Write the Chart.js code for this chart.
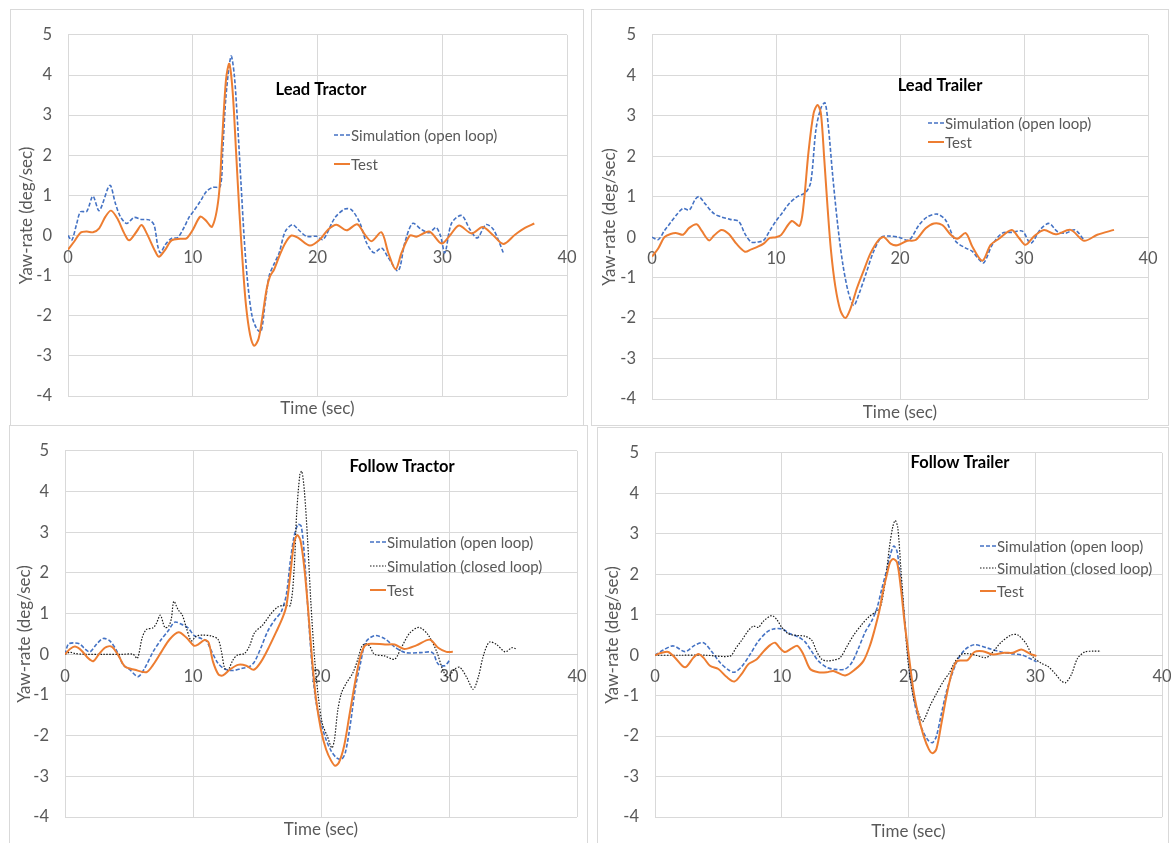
<!DOCTYPE html>
<html>
<head>
<meta charset="utf-8">
<script src="https://cdn.jsdelivr.net/npm/chart.js@4.4.1/dist/chart.umd.min.js"></script>
<style>
  body { margin: 0; background: #fff; width: 1171px; height: 843px; overflow: hidden; position: relative; }
  .frame { position: absolute; border: 1px solid #d9d9d9; box-sizing: border-box; }
  canvas { position: absolute; }
</style>
</head>
<body>
<div class="frame" style="left:10px;top:9px;width:574px;height:417px"></div>
<div class="frame" style="left:591px;top:9px;width:578px;height:417px"></div>
<div class="frame" style="left:9px;top:425px;width:579px;height:430px"></div>
<div class="frame" style="left:597px;top:427px;width:572px;height:430px"></div>

<canvas id="leadTractor" width="573" height="416" style="left:10px;top:9px"></canvas>
<canvas id="leadTrailer" width="577" height="416" style="left:591px;top:9px"></canvas>
<canvas id="followTractor" width="578" height="418" style="left:9px;top:425px"></canvas>
<canvas id="followTrailer" width="574" height="416" style="left:597px;top:427px"></canvas>

<script>
// axis ranges shared by all four panels
const timeRange = [0, 40];
const yawRange = [-4, 5];

// [time (sec), yaw-rate (deg/sec)]

// Lead Tractor
const leadTractorOpen = [[0,0],[0.3,-0.12],[0.7,0.3],[1,0.59],[1.5,0.6],[2,0.98],[2.5,0.62],[3.35,1.25],[3.8,0.8],[4.2,0.47],
  [4.7,0.3],[5.3,0.45],[5.9,0.4],[6.5,0.39],[6.9,0.26],[7.2,-0.27],[7.4,-0.43],[7.8,-0.23],[8.3,-0.07],[8.8,-0.05],
  [9.3,0.2],[9.7,0.45],[10.1,0.62],[10.6,0.85],[11.1,1.1],[11.6,1.2],[12.2,1.22],[12.4,2.1],[12.67,3.5],[13.07,4.47],
  [13.33,4.0],[13.6,2.76],[13.87,1.29],[14.13,-0.1],[14.4,-1.17],[14.75,-2.0],[15.12,-2.32],[15.47,-2.4],[15.81,-1.66],[16.13,-1.0],
  [16.53,-0.7],[16.93,-0.43],[17.41,0.1],[18,0.27],[18.45,0.15],[19.12,-0.02],[19.92,-0.02],[20.45,-0.1],[21.39,0.44],[22.19,0.66],
  [22.73,0.64],[23.4,0.31],[23.93,-0.18],[24.52,-0.43],[25.13,-0.31],[25.67,-0.55],[26.47,-0.88],[27,-0.18],[27.62,0.3],[28.34,0.15],
  [28.96,0.07],[29.5,0.2],[29.87,-0.02],[30.21,-0.43],[30.75,0.31],[31.55,0.5],[32.22,0.15],[32.81,-0.06],[33.5,0.27],[34.1,0.15],[34.9,-0.43]];
const leadTractorTest = [[0,-0.35],[0.5,-0.15],[1,0.07],[1.5,0.1],[2,0.08],[2.5,0.18],[3,0.47],[3.45,0.62],[4,0.4],[4.5,0.06],
  [4.9,-0.12],[5.5,0.1],[5.9,0.26],[6.3,0.06],[7,-0.4],[7.3,-0.53],[7.8,-0.35],[8.3,-0.12],[9,-0.08],[9.5,-0.07],
  [10,0.14],[10.6,0.47],[11,0.39],[11.55,0.22],[12.08,0.96],[12.35,2.35],[12.67,3.9],[12.93,4.28],[13.2,3.58],[13.47,2.1],
  [13.73,0.63],[14,-0.68],[14.27,-1.75],[14.6,-2.48],[14.93,-2.75],[15.28,-2.57],[15.6,-1.99],[15.92,-1.34],[16.19,-1.02],[16.53,-0.84],
  [16.93,-0.52],[17.41,-0.19],[17.91,0],[18.45,-0.06],[19.39,-0.25],[20.19,-0.1],[20.86,0.15],[21.52,0.27],[22.33,0.13],[23.18,0.28],
  [23.8,0.02],[24.33,-0.14],[25.13,0.08],[25.67,-0.43],[26.26,-0.84],[26.74,-0.43],[27.41,0],[27.94,-0.03],[28.96,0.1],[29.95,-0.2],
  [30.61,0],[31.34,0.25],[32.35,0.05],[33.24,0.21],[34.04,0.02],[34.9,-0.21],[35.83,0.02],[36.63,0.19],[37.38,0.3]];

// Lead Trailer
const leadTrailerOpen = [[0,0],[0.5,-0.06],[1,0.16],[1.5,0.36],[2,0.56],[2.5,0.71],[3,0.67],[3.5,0.94],[3.8,1.0],[4.3,0.82],
  [5,0.58],[5.6,0.5],[6.3,0.44],[7,0.39],[7.5,0.08],[8,-0.12],[8.5,-0.12],[9,-0.08],[9.5,0.16],[10,0.4],
  [10.5,0.6],[11,0.81],[11.6,0.98],[12.4,1.11],[12.81,1.37],[13.22,2.66],[13.62,3.19],[13.95,3.32],[14.22,2.74],[14.57,1.53],
  [14.97,0.32],[15.38,-0.65],[15.84,-1.37],[16.27,-1.69],[16.73,-1.37],[17.27,-0.89],[17.81,-0.4],[18.49,0],[19.03,0.03],[19.9,0],
  [20.73,-0.07],[21.53,0.3],[22.2,0.5],[23,0.57],[23.68,0.42],[24.49,-0.1],[25.3,-0.27],[25.83,-0.35],[26.37,-0.55],[26.77,-0.63],
  [27.44,-0.19],[28.25,0.1],[29.06,0.12],[29.87,0.15],[30.54,-0.15],[31.34,0.2],[32.02,0.34],[32.69,0.14],[33.36,0.1],[34.11,0.18],[34.84,-0.07]];
const leadTrailerTest = [[0,-0.48],[0.5,-0.28],[1,0],[1.5,0.08],[2,0.1],[2.5,0.06],[3,0.23],[3.6,0.32],[4,0.16],[4.6,-0.08],
  [5,0.04],[5.6,0.18],[6.2,0.08],[6.8,-0.16],[7.5,-0.36],[8,-0.3],[8.5,-0.24],[9,-0.16],[9.5,-0.02],[10,0],
  [10.4,0.05],[11.27,0.4],[11.89,0.28],[12.2,0.73],[12.62,2.1],[13.03,3.06],[13.35,3.27],[13.62,3.06],[13.89,1.94],[14.16,0.73],
  [14.43,-0.32],[14.78,-1.21],[15.19,-1.81],[15.59,-2.0],[16,-1.77],[16.54,-1.25],[17.08,-0.82],[17.62,-0.4],[18.3,-0.06],[18.71,0],
  [19.24,-0.16],[19.78,-0.2],[20.59,-0.09],[21.26,-0.07],[22.07,0.22],[22.74,0.34],[23.41,0.3],[24.09,0.06],[24.62,-0.04],[25.3,0.1],
  [25.83,-0.23],[26.64,-0.58],[27.31,-0.19],[27.98,-0.04],[29,0.18],[29.6,-0.02],[30.13,-0.19],[30.81,0.02],[31.61,0.18],[32.55,0.07],
  [33.76,0.18],[34.84,-0.09],[35.91,0.06],[37.26,0.18]];

// Follow Tractor
const followTractorOpen = [[0,0],[0.26,0.25],[0.65,0.28],[1.17,0.25],[1.56,0.13],[1.95,0.06],[2.47,0.25],[2.99,0.39],[3.5,0.33],[4.03,0.09],
  [4.55,-0.26],[5.06,-0.38],[5.71,-0.55],[6.23,-0.34],[6.88,0.06],[7.53,0.37],[8.05,0.57],[8.57,0.79],[9.22,0.72],[9.61,0.65],
  [10.13,0.45],[10.65,0.39],[11.04,0.33],[11.43,0.09],[11.95,-0.22],[12.47,-0.36],[13.12,-0.4],[13.77,-0.35],[14.42,-0.3],[14.81,-0.18],
  [15.32,0.17],[15.84,0.57],[16.4,0.85],[16.9,1.05],[17.3,1.48],[17.6,2.28],[17.9,2.9],[18.2,3.19],[18.45,3.15],[18.7,2.44],
  [19,1.0],[19.3,-0.27],[19.6,-1.15],[20,-1.7],[20.4,-2.1],[20.8,-2.38],[21.2,-2.54],[21.6,-2.58],[21.9,-2.42],[22.3,-1.7],
  [22.7,-0.8],[23.1,-0.2],[23.5,0.3],[24.2,0.46],[25,0.38],[25.8,0.17],[26.6,0.04],[27.7,0.04],[28.7,0.04],[29.15,-0.24],
  [29.67,-0.28],[30.1,-0.12]];
const followTractorClosed = [[0,0],[0.39,0.05],[0.78,0.02],[1.5,0],[3,0],[4.5,0],[5.32,0],[5.66,-0.1],[6.03,0.41],[6.36,0.61],
  [6.88,0.65],[7.14,0.76],[7.45,0.96],[7.8,0.66],[8.1,0.69],[8.31,0.88],[8.5,1.3],[8.83,1.1],[9.17,0.96],[9.48,0.65],
  [9.87,0.33],[10.26,0.45],[10.78,0.47],[11.43,0.45],[11.95,0.37],[12.21,0.09],[12.47,-0.34],[12.73,-0.39],[13.12,-0.14],[13.46,-0.02],
  [14.03,0.02],[14.42,0.21],[14.81,0.53],[15.45,0.72],[16.1,1.0],[16.62,1.16],[17.14,1.21],[17.6,1.2],[17.9,2.1],[18.1,3.47],
  [18.35,4.42],[18.5,4.5],[18.7,4.02],[18.95,2.83],[19.2,1.32],[19.5,-0.11],[19.8,-1.07],[20.1,-1.7],[20.5,-2.02],[20.85,-2.3],
  [21.05,-2.1],[21.3,-1.4],[21.6,-0.95],[22,-0.7],[22.5,-0.45],[22.9,-0.1],[23.2,0.2],[23.5,0.26],[23.8,0.2],[24.18,0],
  [24.96,-0.04],[25.75,-0.12],[26.27,0.16],[26.93,0.52],[27.66,0.66],[28.36,0.48],[29.02,0.08],[29.54,-0.4],[29.93,-0.56],[30.45,-0.36],
  [30.85,-0.32],[31.37,-0.56],[31.89,-0.86],[32.29,-0.56],[32.68,-0.04],[33.15,0.3],[33.72,0.24],[34.38,0.06],[34.9,0.16],[35.21,0.14]];
const followTractorTest = [[0,0],[0.39,0.13],[0.78,0.19],[1.3,0.09],[1.82,-0.1],[2.21,-0.17],[2.6,-0.02],[3.12,0.16],[3.64,0.19],[4.16,-0.02],
  [4.68,-0.3],[5.45,-0.38],[6.36,-0.44],[6.88,-0.26],[7.53,0.06],[8.18,0.37],[8.88,0.54],[9.48,0.41],[10.08,0.21],[10.44,0.25],
  [10.91,0.35],[11.22,0.29],[11.56,-0.18],[12,-0.5],[12.34,-0.52],[12.86,-0.38],[13.51,-0.26],[14.16,-0.28],[14.75,-0.38],[15.32,-0.18],
  [15.97,0.2],[16.5,0.55],[17,0.9],[17.3,1.2],[17.6,1.96],[17.9,2.75],[18.15,2.93],[18.4,2.79],[18.7,2.12],[19,1.08],
  [19.3,-0.11],[19.6,-1.07],[20,-1.86],[20.4,-2.34],[20.8,-2.62],[21.1,-2.74],[21.4,-2.66],[21.8,-2.26],[22.2,-1.54],[22.6,-0.8],
  [23,-0.15],[23.4,0.2],[23.9,0.26],[25,0.24],[25.75,0.24],[26.5,0.13],[27.45,0.22],[28.5,0.36],[29.15,0.16],[29.8,0.06],[30.3,0.06]];

// Follow Trailer
const followTrailerOpen = [[0,0],[0.66,0.13],[1.45,0.23],[2.37,0.09],[3.16,0.25],[3.82,0.31],[4.47,0.09],[5.13,-0.18],[5.79,-0.36],[6.26,-0.42],
  [6.84,-0.28],[7.5,0.02],[8.16,0.35],[8.82,0.57],[9.34,0.65],[10,0.65],[10.66,0.53],[11.32,0.45],[11.84,0.33],[12.37,0.09],
  [12.89,-0.14],[13.55,-0.3],[14.21,-0.35],[15,-0.34],[15.53,-0.18],[16.05,0.17],[16.58,0.57],[17.1,0.85],[17.5,1.15],[17.9,1.65],
  [18.3,2.13],[18.6,2.52],[18.85,2.7],[19.1,2.56],[19.4,1.81],[19.7,0.86],[20,-0.1],[20.4,-1.05],[20.8,-1.6],[21.2,-1.92],
  [21.6,-2.12],[21.9,-2.16],[22.2,-2.0],[22.6,-1.44],[23,-0.89],[23.4,-0.5],[23.9,-0.1],[24.5,0.15],[25.2,0.26],[26.2,0.18],
  [27.3,0.08],[28.1,0.04],[29,0],[29.7,-0.1],[30.1,-0.16]];
const followTrailerClosed = [[0,0],[2,0],[4,0],[5.92,-0.02],[6.37,0.17],[6.84,0.37],[7.37,0.61],[7.76,0.72],[8.16,0.69],[8.55,0.84],
  [9.21,0.98],[9.61,0.88],[10,0.69],[10.53,0.53],[11.18,0.49],[11.84,0.47],[12.37,0.37],[12.76,0.09],[13.16,-0.1],[13.55,-0.14],
  [14.08,-0.12],[14.61,-0.06],[15.13,0.21],[15.66,0.49],[16.32,0.76],[16.84,0.94],[17.37,1.06],[17.7,1.15],[17.9,1.33],[18.2,1.89],
  [18.5,2.68],[18.75,3.16],[18.95,3.33],[19.15,3.16],[19.4,2.13],[19.7,0.86],[20,-0.25],[20.4,-1.05],[20.8,-1.44],[21.1,-1.64],
  [21.3,-1.55],[21.7,-1.25],[22.2,-0.95],[22.8,-0.62],[23.2,-0.45],[23.6,-0.2],[24.15,0.02],[24.67,0.04],[25.33,0],[26.13,-0.06],
  [26.65,0.08],[27.31,0.32],[28.1,0.5],[28.63,0.5],[29.29,0.28],[29.82,-0.04],[30.48,-0.2],[31.01,-0.28],[31.53,-0.44],[32.01,-0.62],
  [32.38,-0.68],[32.85,-0.48],[33.33,-0.08],[33.91,0.08],[34.57,0.1],[35.18,0.1]];
const followTrailerTest = [[0,0],[0.53,0.06],[1.05,0.08],[1.58,-0.06],[2.37,-0.3],[3.03,-0.06],[3.42,0.03],[3.82,-0.06],[4.34,-0.26],[5,-0.34],
  [5.66,-0.54],[6.26,-0.65],[6.84,-0.46],[7.37,-0.22],[8.03,-0.1],[8.55,0.09],[9.08,0.25],[9.47,0.31],[9.87,0.17],[10.26,0.08],
  [10.79,0.17],[11.24,0.23],[11.71,0.02],[12.24,-0.34],[12.89,-0.42],[13.55,-0.42],[14.08,-0.39],[15,-0.5],[15.79,-0.35],[16.45,-0.14],
  [16.97,0.25],[17.3,0.6],[17.7,1.1],[18,1.6],[18.3,2.0],[18.55,2.3],[18.8,2.38],[19.1,2.29],[19.4,1.65],[19.7,0.78],
  [20,0.06],[20.4,-0.89],[20.8,-1.52],[21.2,-2.0],[21.6,-2.32],[21.9,-2.42],[22.2,-2.32],[22.6,-1.68],[23,-1.0],[23.4,-0.45],
  [23.8,-0.15],[24.2,-0.13],[24.67,-0.12],[25.2,0.08],[25.86,0.1],[26.65,0.02],[27.58,0.06],[28.24,0.06],[28.9,0.14],[29.56,0.04],[30.09,-0.02]];

const labelOpen = 'Simulation (open loop)';
const labelClosed = 'Simulation (closed loop)';
const labelTest = 'Test';

const styles = {
  open:   { borderColor: '#4472C4', borderWidth: 1.6, borderDash: [4, 2], order: 2 },
  closed: { borderColor: '#1a1a1a', borderWidth: 1.2, borderDash: [1.5, 1.5], order: 1 },
  test:   { borderColor: '#ED7D31', borderWidth: 2, borderDash: [], order: 0 }
};

Chart.defaults.font.family = 'Lato';
Chart.defaults.color = '#595959';

// title and legend sit inside the plot, like the original sheet
const panelText = {
  id: 'panelText',
  afterDraw(chart, args, opts) {
    const ctx = chart.ctx;
    ctx.save();
    ctx.font = 'bold 16.5px Lato';
    ctx.fillStyle = '#000';
    ctx.textAlign = 'center';
    ctx.textBaseline = 'middle';
    ctx.fillText(opts.title, opts.titleX, opts.titleY);

    ctx.font = '15px Lato';
    ctx.textAlign = 'left';
    chart.data.datasets.forEach((ds, i) => {
      const y = opts.legendY[i];
      ctx.strokeStyle = ds.borderColor;
      ctx.lineWidth = ds.borderWidth;
      ctx.setLineDash(ds.borderDash);
      ctx.beginPath();
      ctx.moveTo(opts.legendX, y);
      ctx.lineTo(opts.legendX + 16, y);
      ctx.stroke();
      ctx.fillStyle = '#595959';
      ctx.fillText(ds.label, opts.legendX + 17, y + 1);
    });
    ctx.restore();
  }
};

function makePanel(id, series, box) {
  const datasets = series.map(s => Object.assign({
    label: s.label,
    data: s.data.map(p => ({ x: p[0], y: p[1] })),
    xAxisID: 'x',
    yAxisID: 'y',
    pointRadius: 0,
    tension: 0.3,
    fill: false
  }, styles[s.kind]));

  new Chart(document.getElementById(id), {
    type: 'line',
    data: { datasets: datasets },
    plugins: [panelText],
    options: {
      responsive: false,
      animation: false,
      devicePixelRatio: 1,
      layout: { padding: { top: box.top, right: box.right, left: 0, bottom: 0 } },
      plugins: {
        legend: { display: false },
        tooltip: { enabled: false },
        panelText: { title: box.title, titleX: box.titleX, titleY: box.titleY, legendX: box.legendX, legendY: box.legendY }
      },
      scales: {
        x: {
          type: 'linear',
          position: { y: 0 },
          min: timeRange[0], max: timeRange[1],
          ticks: { stepSize: 10, padding: 12, font: { size: 16.5 }, color: '#595959' },
          grid: { color: '#d9d9d9', drawTicks: false },
          border: { color: '#cfcfcf' },
          afterFit(s) { s.paddingLeft = 0; s.paddingRight = 0; }
        },
        xt: {
          type: 'linear',
          position: 'bottom',
          min: timeRange[0], max: timeRange[1],
          ticks: { display: false },
          grid: { display: false },
          border: { display: false },
          title: { display: true, text: 'Time (sec)', font: { size: 17 }, color: '#595959', padding: { top: 0, bottom: box.xTitlePad } },
          afterFit(s) { s.height = box.bottom; s.paddingLeft = 0; s.paddingRight = 0; }
        },
        y: {
          min: yawRange[0], max: yawRange[1],
          ticks: { stepSize: 1, padding: 16, font: { size: 16.5 }, color: '#595959' },
          grid: { color: '#d9d9d9', drawTicks: false },
          border: { display: false },
          title: { display: true, text: 'Yaw-rate (deg/sec)', font: { size: 17 }, color: '#595959', padding: { top: box.yTitlePad, bottom: 0 } },
          afterFit(s) { s.width = box.left; }
        }
      }
    }
  });
}

makePanel('leadTractor', [
  { label: labelOpen, kind: 'open', data: leadTractorOpen },
  { label: labelTest, kind: 'test', data: leadTractorTest }
], { top: 20, right: 16, left: 58, bottom: 29, yTitlePad: 6, xTitlePad: 6,
     title: 'Lead Tractor', titleX: 311, titleY: 81, legendX: 324, legendY: [126, 155] });

makePanel('leadTrailer', [
  { label: labelOpen, kind: 'open', data: leadTrailerOpen },
  { label: labelTest, kind: 'test', data: leadTrailerTest }
], { top: 17, right: 20, left: 61, bottom: 26, yTitlePad: 8, xTitlePad: 2,
     title: 'Lead Trailer', titleX: 349, titleY: 77, legendX: 337, legendY: [114, 133] });

makePanel('followTractor', [
  { label: labelOpen, kind: 'open', data: followTractorOpen },
  { label: labelClosed, kind: 'closed', data: followTractorClosed },
  { label: labelTest, kind: 'test', data: followTractorTest }
], { top: 13, right: 10, left: 56, bottom: 26, yTitlePad: 5, xTitlePad: 3,
     title: 'Follow Tractor', titleX: 393, titleY: 42, legendX: 361, legendY: [117, 141, 165] });

makePanel('followTrailer', [
  { label: labelOpen, kind: 'open', data: followTrailerOpen },
  { label: labelClosed, kind: 'closed', data: followTrailerClosed },
  { label: labelTest, kind: 'test', data: followTrailerTest }
], { top: 11, right: 9, left: 58, bottom: 25, yTitlePad: 5, xTitlePad: 0,
     title: 'Follow Trailer', titleX: 363, titleY: 36, legendX: 383, legendY: [119, 141, 164] });
</script>
</body>
</html>
